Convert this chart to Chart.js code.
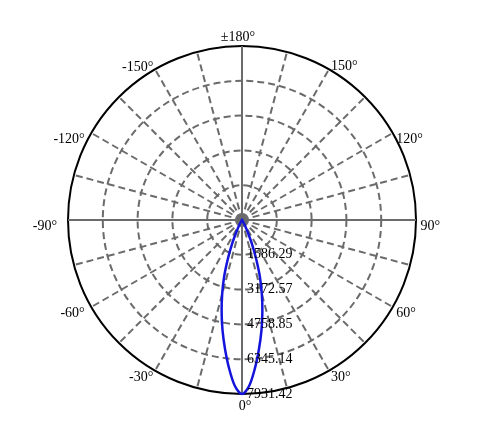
<!DOCTYPE html>
<html>
<head>
<meta charset="utf-8">
<script src="https://cdn.jsdelivr.net/npm/chart.js@4/dist/chart.umd.min.js"></script>
<style>
html,body{margin:0;padding:0;background:#fff;overflow:hidden}
canvas{display:block}
</style>
</head>
<body>
<canvas id="c" width="480" height="439"></canvas>
<script>
// ---- data ----
// polar angle categories, clockwise from the top (+180) : 180, 177.5, ..., 0, ..., -177.5
const angleStep = 2.5;
const angleCategories = [];
for (let a = 180; a > -180; a -= angleStep) angleCategories.push(a);

// measured intensity (cd) vs. |angle| (deg) — symmetric narrow beam
const beamAngles = [0, 2.5, 5, 7.5, 10, 12.5, 15, 17.5, 20, 22.5, 25, 27.5, 30, 32.5];
const beamValues = [7931.42, 7560, 6780, 5930, 5110, 4290, 3490, 2710, 1890, 1210, 640, 300, 120, 40];

// radial rings and their labels
const ringValues = [0, 1586.29, 3172.57, 4758.85, 6345.14, 7931.42];
const ringLabels = ['0', '1586.29', '3172.57', '4758.85', '6345.14', '7931.42'];

// angle axis labels
const axisLabelAngles = [180, 150, 120, 90, 60, 30, 0, -30, -60, -90, -120, -150];
const axisLabelTexts = ['\u00b1180\u00b0', '150\u00b0', '120\u00b0', '90\u00b0', '60\u00b0', '30\u00b0', '0\u00b0', '-30\u00b0', '-60\u00b0', '-90\u00b0', '-120\u00b0', '-150\u00b0'];

const intensity = angleCategories.map(a => {
  const k = beamAngles.indexOf(Math.abs(a));
  return k >= 0 ? beamValues[k] : 0;
});

// ---- styles ----
const GRID = '#6b6b6b';
const DASH = [7, 4];
const lastRing = ringValues.length - 1;

const textPlugin = {
  id: 'polarText',
  afterDraw(chart) {
    const s = chart.scales.r;
    const ctx = chart.ctx;
    ctx.save();
    ctx.fillStyle = '#000';
    ctx.font = '14px "Liberation Serif", "Times New Roman", serif';
    // angle labels
    axisLabelAngles.forEach((a, j) => {
      const i = angleCategories.indexOf(a);
      const p = s.getPointPosition(i, s.drawingArea);
      const rad = a * Math.PI / 180;
      const sn = Math.abs(Math.sin(rad));
      ctx.textBaseline = 'alphabetic';
      let x = p.x, y = p.y;
      if (a === 180) {
        ctx.textAlign = 'center'; x -= 4; y -= 5;
      } else if (a === 0) {
        ctx.textAlign = 'center'; x += 3; y += 16;
      } else if (a > 0) {
        ctx.textAlign = 'left'; x += 1 + 3.5 * sn * sn;
        y += Math.abs(a) >= 150 ? 1 : 10;
      } else {
        ctx.textAlign = 'right'; x -= 10 * Math.pow(sn, 4) + 1;
        y += Math.abs(a) >= 150 ? 1.5 : 10;
      }
      ctx.fillText(axisLabelTexts[j], x, y);
    });
    // ring labels
    ctx.textAlign = 'left';
    ctx.textBaseline = 'middle';
    ringValues.forEach((v, i) => {
      if (i === 0) return;
      const d = s.getDistanceFromCenterForValue(v);
      ctx.fillText(ringLabels[i], s.xCenter + 5, s.yCenter + d);
    });
    ctx.restore();
  }
};

const bgPlugin = {
  id: 'bg',
  beforeDraw(chart) {
    const ctx = chart.ctx;
    ctx.save();
    ctx.fillStyle = '#fff';
    ctx.fillRect(0, 0, chart.width, chart.height);
    ctx.restore();
  }
};

new Chart(document.getElementById('c'), {
  type: 'radar',
  data: {
    labels: angleCategories,
    datasets: [{
      data: intensity,
      borderColor: '#1414dc',
      borderWidth: 2.5,
      pointRadius: 0,
      pointHoverRadius: 0,
      fill: false,
      tension: 0.3
    }]
  },
  options: {
    responsive: false,
    animation: false,
    events: [],
    layout: { padding: { left: 68, top: 46, right: 64, bottom: 45 } },
    plugins: { legend: { display: false }, tooltip: { enabled: false } },
    scales: {
      r: {
        min: 0,
        max: ringValues[lastRing],
        startAngle: 0,
        afterBuildTicks: s => { s.ticks = ringValues.map(v => ({ value: v })); },
        ticks: { display: false },
        pointLabels: { display: false },
        grid: {
          circular: true,
          color: c => c.index === lastRing ? '#000' : GRID,
          lineWidth: 2
        },
        border: {
          dash: c => c.index === lastRing ? [] : DASH
        },
        angleLines: {
          display: true,
          color: c => (c.index % 6 === 0) ? GRID : 'rgba(0,0,0,0)',
          lineWidth: c => (c.index % 6 === 0) ? 2 : 0,
          borderDash: c => (c.index % 36 === 0) ? [] : DASH
        }
      }
    }
  },
  plugins: [bgPlugin, textPlugin]
});
</script>
</body>
</html>
